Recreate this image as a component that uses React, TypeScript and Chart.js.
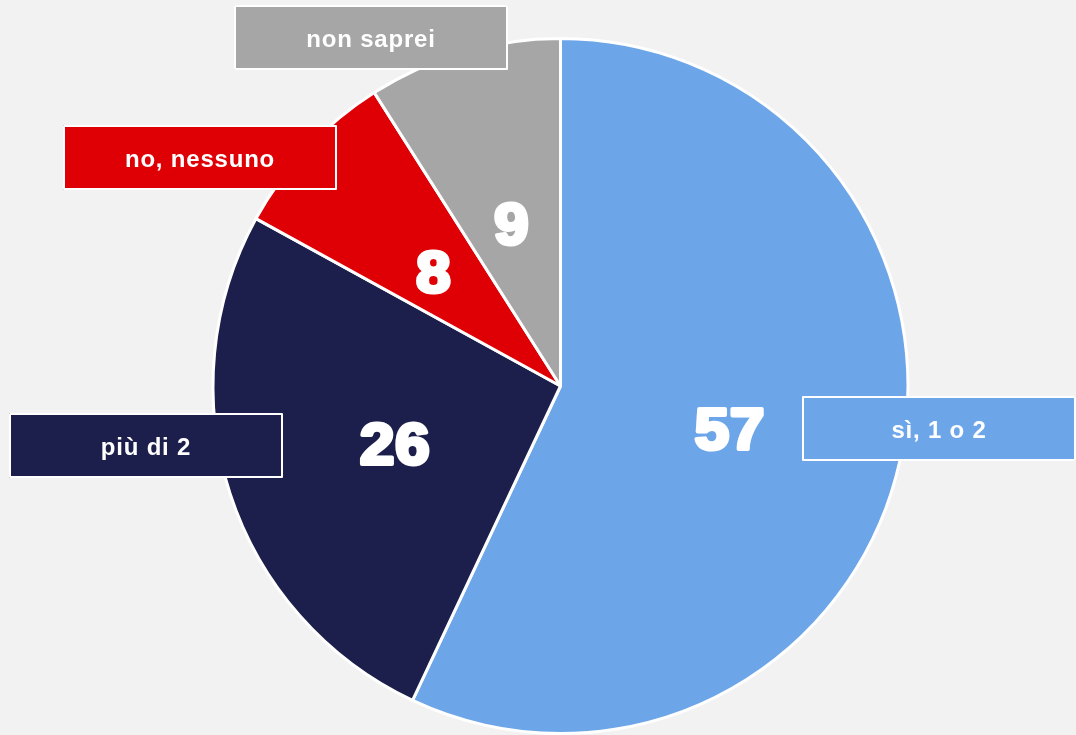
import React, { useEffect, useRef } from "react";
import { Chart, registerables } from "chart.js";

Chart.register(...registerables);

const categories = ["sì, 1 o 2", "più di 2", "no, nessuno", "non saprei"];
const values = [57, 26, 8, 9];
const colors = ["#6ca6e9", "#1c1f4b", "#df0006", "#a6a6a6"];

// label box offsets relative to the pie centre (layout only)
const boxOffsets: [number, number][] = [
  [378.5, 42],
  [-415, 59],
  [-361, -229],
  [-189.5, -349],
];
const BOX_W = 274;
const BOX_H = 65;

const labelPlugin = {
  id: "pieLabels",
  afterDatasetsDraw(chart: any) {
    const ctx = chart.ctx;
    const meta = chart.getDatasetMeta(0);
    ctx.save();
    meta.data.forEach((arc: any, i: number) => {
      const p = arc.getProps(["x", "y", "startAngle", "endAngle", "outerRadius"], true);
      const mid = (p.startAngle + p.endAngle) / 2;
      const r = p.outerRadius * 0.5;
      const tx = p.x + Math.cos(mid) * r;
      const ty = p.y + Math.sin(mid) * r;
      ctx.font = "bold 57px 'Liberation Sans', Arial, sans-serif";
      ctx.textAlign = "center";
      ctx.textBaseline = "middle";
      ctx.fillStyle = "#ffffff";
      ctx.strokeStyle = "#ffffff";
      ctx.lineWidth = 4;
      ctx.lineJoin = "round";
      (ctx as any).letterSpacing = "1px";
      ctx.save();
      ctx.translate(tx, ty + 9);
      ctx.scale(1.08, 1);
      ctx.strokeText(String(values[i]), 0, 0);
      ctx.fillText(String(values[i]), 0, 0);
      ctx.restore();

      // category box
      const [ox, oy] = boxOffsets[i];
      const bx = Math.round(p.x + ox - BOX_W / 2);
      const by = Math.round(p.y + oy - BOX_H / 2);
      ctx.fillStyle = colors[i];
      ctx.fillRect(bx, by, BOX_W, BOX_H);
      ctx.lineWidth = 2;
      ctx.strokeStyle = "#ffffff";
      ctx.strokeRect(bx + 1, by + 1, BOX_W - 2, BOX_H - 2);
      ctx.fillStyle = "#ffffff";
      ctx.font = "bold 24px 'Liberation Sans', Arial, sans-serif";
      (ctx as any).letterSpacing = "0.8px";
      ctx.fillText(categories[i], bx + BOX_W / 2, by + BOX_H / 2 + 3);
    });
    ctx.restore();
  },
};

export default function App() {
  const ref = useRef<HTMLCanvasElement>(null);
  useEffect(() => {
    if (!ref.current) return;
    const chart = new Chart(ref.current, {
      type: "pie",
      data: {
        labels: categories,
        datasets: [
          {
            data: values,
            backgroundColor: colors,
            borderColor: "#ffffff",
            borderWidth: 3,
          },
        ],
      },
      options: {
        responsive: false,
        animation: false,
        layout: { padding: { left: 45, right: 0, top: 37, bottom: 0 } },
        plugins: {
          legend: { display: false },
          tooltip: { enabled: false },
        },
      },
      plugins: [labelPlugin],
    });
    return () => chart.destroy();
  }, []);
  return (
    <div
      style={{
        position: "fixed",
        left: 0,
        top: 0,
        width: 1076,
        height: 735,
        background: "#f2f2f2",
      }}
    >
      <canvas ref={ref} width={1076} height={735} style={{ display: "block" }} />
    </div>
  );
}
